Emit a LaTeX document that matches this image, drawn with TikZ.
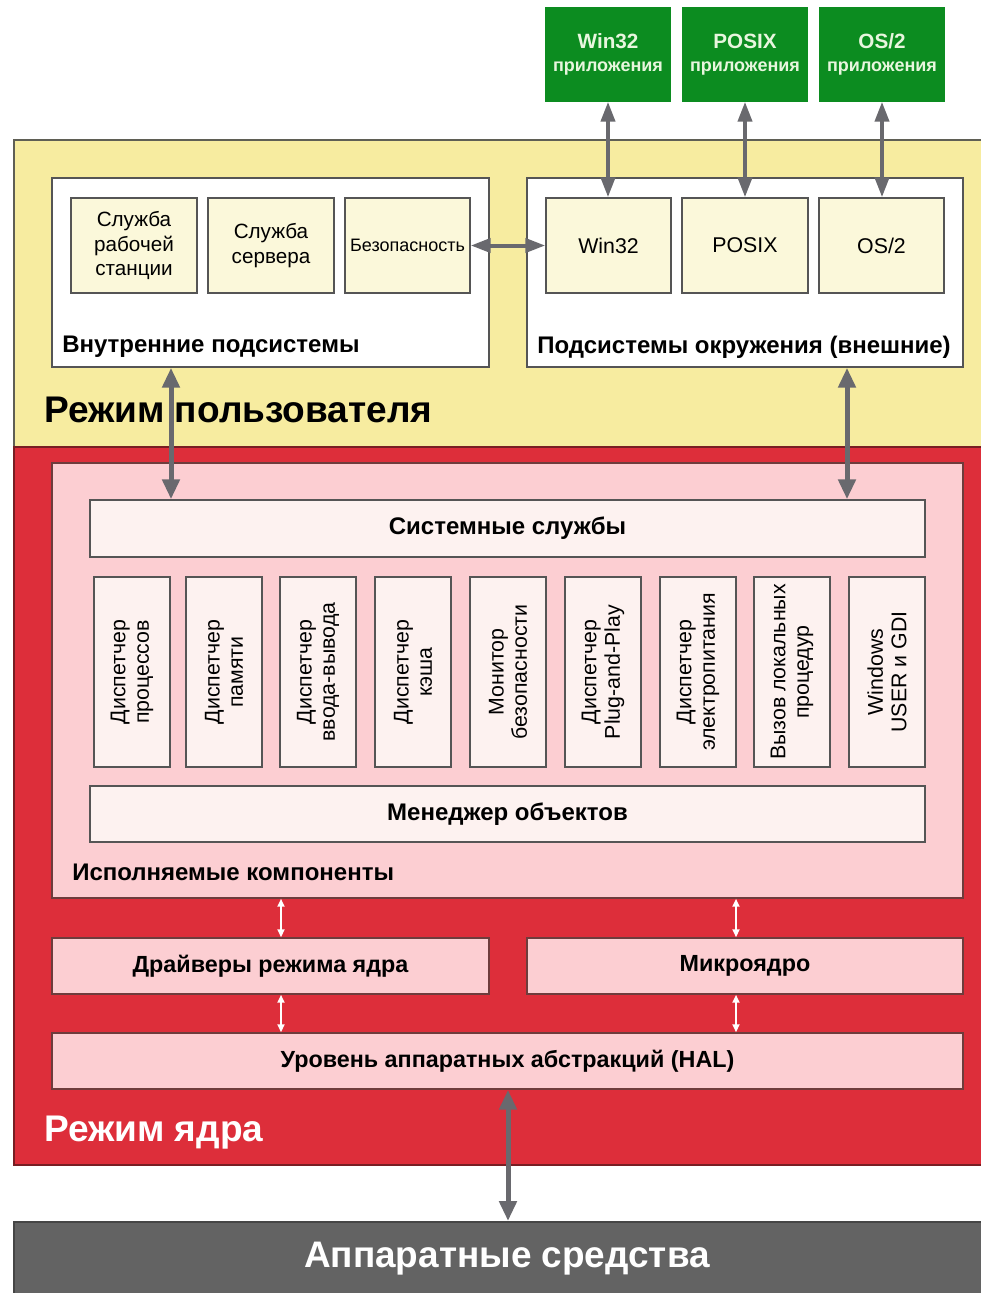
\documentclass[tikz,border=0pt]{standalone}
\usepackage{fontspec}
\setmainfont{Liberation Sans}
\usetikzlibrary{arrows.meta,fit}
\definecolor{userY}{RGB}{247,236,160}
\definecolor{userB}{RGB}{95,95,85}
\definecolor{kernR}{RGB}{221,46,58}
\definecolor{kernB}{RGB}{120,30,35}
\definecolor{execP}{RGB}{252,206,210}
\definecolor{execB}{RGB}{110,60,60}
\definecolor{liteP}{RGB}{253,242,240}
\definecolor{liteY}{RGB}{251,248,218}
\definecolor{appG}{RGB}{12,140,32}
\definecolor{appT}{RGB}{232,246,222}
\definecolor{hwG}{RGB}{99,99,99}
\definecolor{arrG}{RGB}{105,105,110}
\definecolor{boxB}{RGB}{85,85,85}
\begin{document}
\begin{tikzpicture}[x=0.75pt,y=-0.75pt,
  regionbox/.style={inner sep=0pt, line width=1.5pt},
  fitbox/.style={inner sep=0pt, line width=1.1pt, draw=boxB},
  appbox/.style={fitbox, fill=appG, draw=appG, text=appT, align=center, minimum width=93pt, minimum height=69.75pt},
  ybox/.style={fitbox, fill=liteY, align=center, minimum height=71.25pt, font=\fontsize{15.5}{18.4}\selectfont},
  pbox/.style={fitbox, fill=liteP, align=center},
  kbox/.style={fitbox, fill=execP, draw=execB, align=center, minimum height=42pt, font=\fontsize{17.5}{20}\selectfont\bfseries},
  vbox/.style={fitbox, fill=liteP, rotate=90, minimum width=142.5pt, minimum height=57pt, inner sep=0pt, align=center, font=\fontsize{16}{17.5}\selectfont},
  lbl/.style={anchor=west, inner sep=0pt, font=\fontsize{18}{20}\selectfont\bfseries},
  biglbl/.style={anchor=west, inner sep=0pt, font=\fontsize{27.8}{30}\selectfont\bfseries},
  bigarr/.style={draw=arrG, line width=3.75pt, {Triangle[length=15pt,width=12.75pt]}-{Triangle[length=15pt,width=12.75pt]}},
  apparr/.style={draw=arrG, line width=3pt, {Triangle[length=15pt,width=10.5pt]}-{Triangle[length=15pt,width=10.5pt]}},
  whitearr/.style={draw=white, line width=1.5pt, {Triangle[length=6pt,width=5.25pt]}-{Triangle[length=6pt,width=5.25pt]}}
]
\useasboundingbox (0,0) rectangle (981,1293);
\fill[white] (0,0) rectangle (981,1293);

% regions
\node[regionbox, fill=userY, draw=userB, fit={(14,140)(984,447)}] (user) {};
\node[regionbox, fill=kernR, draw=kernB, fit={(14,447)(984,1165)}] (kern) {};
\node[regionbox, fill=hwG, draw=hwG!70!black, minimum width=739.5pt, minimum height=55.5pt, text=white,
      font=\fontsize{27.7}{30}\selectfont\bfseries] (hw) at (507,1259) {Аппаратные средства};

% applications
\node[appbox] (appw) at (608,54.5) {{\fontsize{15.5}{19}\selectfont\bfseries Win32}\\[5pt]{\fontsize{13.5}{15}\selectfont\bfseries приложения}};
\node[appbox] (appp) at (745,54.5) {{\fontsize{15.5}{19}\selectfont\bfseries POSIX}\\[5pt]{\fontsize{13.5}{15}\selectfont\bfseries приложения}};
\node[appbox] (appo) at (882,54.5) {{\fontsize{15.5}{19}\selectfont\bfseries OS/2}\\[5pt]{\fontsize{13.5}{15}\selectfont\bfseries приложения}};

% user mode
\node[fitbox, fill=white, fit={(52,178)(489,367)}] (intern) {};
\node[fitbox, fill=white, fit={(527,178)(963,367)}] (envir) {};
\node[ybox, minimum width=94.5pt] (ws) at (134,245.5) {Служба\\рабочей\\станции};
\node[ybox, minimum width=94.5pt] (srv) at (271,245.5) {Служба\\сервера};
\node[ybox, minimum width=93.75pt, font=\fontsize{13.5}{15}\selectfont] (sec) at (407.5,245.5) {Безопасность};
\node[ybox, minimum width=93.75pt, font=\fontsize{16}{18}\selectfont] (w32) at (608.5,245.5) {Win32};
\node[ybox, minimum width=94.5pt, font=\fontsize{16}{18}\selectfont] (psx) at (745,245.5) {POSIX};
\node[ybox, minimum width=93.75pt, font=\fontsize{16}{18}\selectfont] (os2) at (881.5,245.5) {OS/2};
\node[lbl] (internlbl) at (62,347) {Внутренние подсистемы};
\node[lbl] (envirlbl) at (537,347) {Подсистемы окружения (внешние)};
\node[biglbl] (userlbl) at (44,410) {Режим пользователя};

% executive
\node[fitbox, fill=execP, draw=execB, fit={(52,463)(963,898)}] (exec) {};
\node[pbox, minimum width=626.25pt, minimum height=42.75pt, font=\fontsize{18}{20}\selectfont\bfseries] (sys) at (507.5,528.5) {Системные службы};
\node[vbox] (v1) at (132,672) {Диспетчер\\процессов};
\node[vbox] (v2) at (224,672) {Диспетчер\\памяти};
\node[vbox] (v3) at (318,672) {Диспетчер\\ввода-вывода};
\node[vbox] (v4) at (413,672) {Диспетчер\\кэша};
\node[vbox] (v5) at (508,672) {Монитор\\безопасности};
\node[vbox] (v6) at (603,672) {Диспетчер\\Plug-and-Play};
\node[vbox] (v7) at (698,672) {Диспетчер\\электропитания};
\node[vbox] (v8) at (792,672) {Вызов локальных\\процедур};
\node[vbox] (v9) at (887,672) {Windows\\USER и GDI};
\node[pbox, minimum width=626.25pt, minimum height=42pt, font=\fontsize{18}{20}\selectfont\bfseries] (obj) at (507.5,814) {Менеджер объектов};
\node[lbl] (execlbl) at (72,872) {Исполняемые компоненты};

% kernel parts
\node[kbox, minimum width=327.75pt] (drv) at (270.5,966) {Драйверы режима ядра};
\node[kbox, minimum width=327pt] (micro) at (745,966) {Микроядро};
\node[kbox, minimum width=683.25pt] (hal) at (507.5,1061) {Уровень аппаратных абстракций (HAL)};
\node[biglbl, text=white] (kernlbl) at (44,1133) {Режим ядра};

% connector columns
\coordinate (c1) at (171,0);
\coordinate (c2) at (847,0);
\coordinate (c3) at (281,0);
\coordinate (c4) at (736,0);
\coordinate (c5) at (508,0);

% arrows
\draw[apparr] (appw.south) -- (w32.north -| appw.south);
\draw[apparr] (appp.south) -- (psx.north -| appp.south);
\draw[apparr] (appo.south) -- (os2.north -| appo.south);
\draw[apparr] (sec.east) -- (w32.west);
\draw[bigarr] (intern.south -| c1) -- (sys.north -| c1);
\draw[bigarr] (envir.south -| c2) -- (sys.north -| c2);
\draw[whitearr] (exec.south -| c3) -- (drv.north -| c3);
\draw[whitearr] (drv.south -| c3) -- (hal.north -| c3);
\draw[whitearr] (exec.south -| c4) -- (micro.north -| c4);
\draw[whitearr] (micro.south -| c4) -- (hal.north -| c4);
\draw[bigarr] (hal.south -| c5) -- (hw.north -| c5);
\end{tikzpicture}
\end{document}
